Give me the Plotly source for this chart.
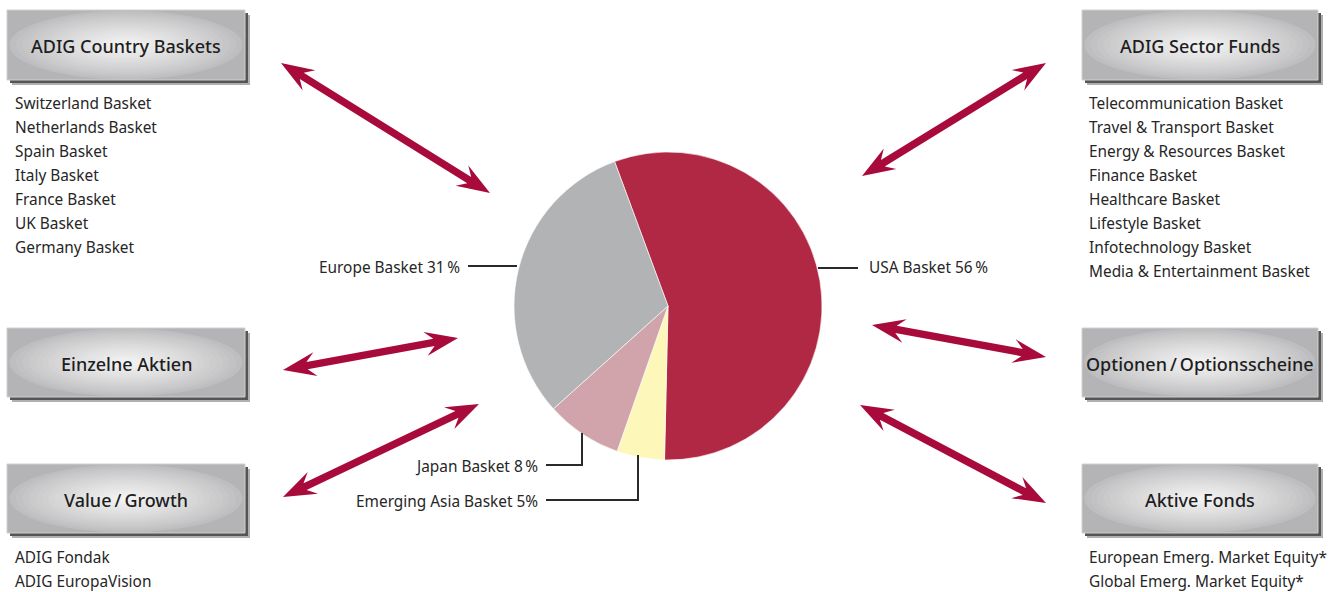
import plotly.graph_objects as go
import math

# ---------------- data ----------------
pie_labels = ["USA Basket", "Emerging Asia Basket", "Japan Basket", "Europe Basket"]
pie_values = [56, 5, 8, 31]
pie_colors = ["#B02843", "#FDF7BA", "#D0A4AA", "#B2B3B5"]

label_texts = ["USA Basket 56\u2009%", "Emerging Asia Basket 5%", "Japan Basket 8\u2009%", "Europe Basket 31\u2009%"]

box_titles = ["ADIG Country Baskets", "Einzelne Aktien", "Value\u2009/\u2009Growth",
              "ADIG Sector Funds", "Optionen\u2009/\u2009Optionsscheine", "Aktive Fonds"]

country_baskets = ["Switzerland Basket", "Netherlands Basket", "Spain Basket", "Italy Basket",
                   "France Basket", "UK Basket", "Germany Basket"]
sector_funds = ["Telecommunication Basket", "Travel & Transport Basket", "Energy & Resources Basket",
                "Finance Basket", "Healthcare Basket", "Lifestyle Basket", "Infotechnology Basket",
                "Media & Entertainment Basket"]
value_growth = ["ADIG Fondak", "ADIG EuropaVision"]
aktive_fonds = ["European Emerg. Market Equity*", "Global Emerg. Market Equity*"]

# ---------------- layout constants ----------------
W, H = 1332, 592
CX, CY, R = 668, 306, 154
TEXT = "#262626"
ARROW = "#A80A3B"
FONT = "Noto Sans"

fig = go.Figure()

fig.add_trace(go.Pie(
    labels=pie_labels, values=pie_values, sort=False, direction="clockwise",
    rotation=-20.3, marker=dict(colors=pie_colors, line=dict(color="white", width=0.6)),
    textinfo="none", hoverinfo="skip", showlegend=False,
    domain=dict(x=[(CX - R) / W, (CX + R) / W], y=[(H - CY - R) / H, (H - CY + R) / H]),
))

shapes = []
annotations = []

def lerp_color(c1, c2, t):
    a = [int(c1[i:i + 2], 16) for i in (1, 3, 5)]
    b = [int(c2[i:i + 2], 16) for i in (1, 3, 5)]
    return "#%02x%02x%02x" % tuple(round(a[k] + (b[k] - a[k]) * t) for k in range(3))

def box(x0, y0, x1, y1, title):
    # shadow
    shapes.append(dict(type="rect", xref="x", yref="y", x0=x0 + 5, y0=y0 + 5, x1=x1 + 5, y1=y1 + 5,
                       fillcolor="#b0b0b0", line=dict(width=0)))
    shapes.append(dict(type="rect", xref="x", yref="y", x0=x0 + 3, y0=y0 + 3, x1=x1 + 3, y1=y1 + 3,
                       fillcolor="#555555", line=dict(width=0)))
    shapes.append(dict(type="rect", xref="x", yref="y", x0=x0, y0=y0, x1=x1, y1=y1,
                       fillcolor="#B4B4B6", line=dict(width=0)))
    cx, cy = (x0 + x1) / 2, (y0 + y1) / 2
    hw, hh = (x1 - x0) / 2, (y1 - y0) / 2
    n = 18
    for i in range(n):
        s = 1.0 - i / n
        t = ((i + 1) / n) ** 0.8
        shapes.append(dict(type="circle", xref="x", yref="y",
                           x0=cx - hw * s * 0.98, x1=cx + hw * s * 0.98,
                           y0=cy - hh * s * 0.98, y1=cy + hh * s * 0.98,
                           fillcolor=lerp_color("#B8B8BA", "#F3F3F3", t), line=dict(width=0)))
    shapes.append(dict(type="rect", xref="x", yref="y", x0=x0, y0=y0, x1=x1, y1=y1,
                       fillcolor="rgba(0,0,0,0)", line=dict(color="#D0D0D2", width=1)))
    annotations.append(dict(x=cx, y=cy + 1, xref="x", yref="y", text=title, showarrow=False,
                            xanchor="center", yanchor="middle",
                            font=dict(family=FONT, size=18, color="#1e1e1e", weight=500)))

boxes_xy = [(7, 10, 245, 80), (7, 328, 245, 397), (7, 464, 245, 533),
            (1082, 10, 1318, 80), (1082, 328, 1318, 397), (1082, 464, 1318, 533)]
for (bx0, by0, bx1, by1), t in zip(boxes_xy, box_titles):
    box(bx0, by0, bx1, by1, t)

def text_list(items, x, y0, step=24):
    for i, s in enumerate(items):
        annotations.append(dict(x=x, y=y0 + i * step, xref="x", yref="y", text=s, showarrow=False,
                                xanchor="left", yanchor="middle",
                                font=dict(family=FONT, size=15.4, color=TEXT)))

text_list(country_baskets, 13, 103)
text_list(sector_funds, 1087, 103)
text_list(value_growth, 13, 557)
text_list(aktive_fonds, 1087, 557)

# pie labels + leader lines
label_pos = [(867, 267, "left"), (540, 501, "right"), (540, 466, "right"), (462, 267, "right")]
for txt, (lx, ly, anc) in zip(label_texts, label_pos):
    annotations.append(dict(x=lx, y=ly, xref="x", yref="y", text=txt, showarrow=False,
                            xanchor=anc, yanchor="middle",
                            font=dict(family=FONT, size=15.4, color=TEXT)))

leaders = [
    [(818, 268), (858, 268)],
    [(546, 500), (638, 500), (638, 455)],
    [(546, 465), (582, 465), (582, 433)],
    [(468, 266), (517, 266)],
]
for pts in leaders:
    p = "M " + " L ".join(f"{x},{y}" for x, y in pts)
    shapes.append(dict(type="path", xref="x", yref="y", path=p,
                       line=dict(color="#2a2a2a", width=2), layer="above"))

# double-headed arrows
def arrow(p0, p1, hw=3.7, hl=33, hh=12, notch=0.74):
    (x0, y0), (x1, y1) = p0, p1
    L = math.hypot(x1 - x0, y1 - y0)
    ux, uy = (x1 - x0) / L, (y1 - y0) / L
    nx, ny = -uy, ux
    def pt(base, along, side):
        return (base[0] + ux * along + nx * side, base[1] + uy * along + ny * side)
    poly = [
        p0,
        pt(p0, hl, hh), pt(p0, hl * notch, hw),
        pt(p1, -hl * notch, hw), pt(p1, -hl, hh),
        p1,
        pt(p1, -hl, -hh), pt(p1, -hl * notch, -hw),
        pt(p0, hl * notch, -hw), pt(p0, hl, -hh),
    ]
    path = "M " + " L ".join(f"{x:.1f},{y:.1f}" for x, y in poly) + " Z"
    shapes.append(dict(type="path", xref="x", yref="y", path=path,
                       fillcolor=ARROW, line=dict(width=0)))

arrows = [((281, 63), (490, 193)), ((1046, 63), (862, 176)),
          ((283, 370), (458, 338)), ((283, 497), (479, 404)),
          ((872, 325), (1046, 357)), ((860, 405), (1046, 503))]
for a, b in arrows:
    arrow(a, b)

fig.update_layout(
    width=W, height=H, margin=dict(l=0, r=0, t=0, b=0),
    paper_bgcolor="white", plot_bgcolor="rgba(0,0,0,0)",
    xaxis=dict(range=[0, W], visible=False, fixedrange=True),
    yaxis=dict(range=[H, 0], visible=False, fixedrange=True),
    shapes=shapes, annotations=annotations, showlegend=False,
)

fig.write_html("out.html", config={"displayModeBar": False},
               post_script="document.body.style.margin='0';document.body.style.overflow='hidden';")
